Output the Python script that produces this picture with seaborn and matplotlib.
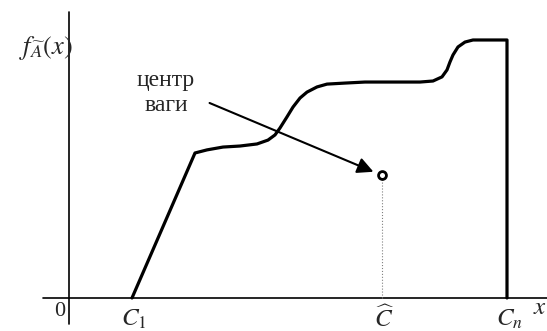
import pandas as pd
import matplotlib.pyplot as plt
import seaborn as sns

# funcion de pertenencia (x en unidades del dibujo, mu de 0 a 1)
x_vals = [132, 195, 207, 223, 240, 257, 268, 275, 280, 287, 293, 300, 307, 317, 327,
          345, 365, 393, 420, 433, 442, 447, 450, 453, 458, 465, 473, 487, 507, 507]
mu_vals = [0.0, 0.562, 0.574, 0.585, 0.589, 0.597, 0.612, 0.632, 0.659, 0.702, 0.740,
           0.775, 0.798, 0.818, 0.829, 0.833, 0.837, 0.837, 0.837, 0.841, 0.857, 0.884,
           0.915, 0.942, 0.973, 0.992, 1.0, 1.0, 1.0, 0.0]

# centro de gravedad
centro_x = [382]
centro_mu = [0.477]

# etiquetas del eje x
tick_pos = [132, 382, 507]
tick_labels = [r'$C_1$', r'$\widehat{C}$', r'$C_n$']

df = pd.DataFrame({"x": x_vals, "mu": mu_vals})

sns.set_style("white")
plt.rcParams['mathtext.fontset'] = 'stix'
plt.rcParams['font.family'] = ['Liberation Serif', 'DejaVu Serif']

fig = plt.figure(figsize=(5.47, 3.31), dpi=100)
ax = fig.add_axes([0, 0, 1, 1])
ax.set_xlim(0, 547)
ax.set_ylim(-0.128, 1.155)
ax.axis('off')

# ejes
ax.plot([43, 547], [0, 0], color='black', lw=1.2)
ax.plot([69, 69], [-0.101, 1.109], color='black', lw=1.2)

# curva
sns.lineplot(x="x", y="mu", data=df, sort=False, estimator=None, color='black',
             lw=2.3, ax=ax)

# linea punteada al centro
ax.plot([centro_x[0], centro_x[0]], [0, centro_mu[0]], color='gray', lw=0.8, ls=':')
sns.scatterplot(x=centro_x, y=centro_mu, s=32, facecolor='white', edgecolor='black',
                linewidth=2, zorder=5, ax=ax)

# flecha y texto
ax.annotate('', xy=(centro_x[0] - 6, centro_mu[0] + 0.008), xytext=(207, 0.760),
            arrowprops=dict(arrowstyle='-|>', color='black', lw=1.5, mutation_scale=24))
ax.text(166, 0.843, 'центр', fontsize=17, ha='center', va='center')
ax.text(166, 0.746, 'ваги', fontsize=17, ha='center', va='center')

# etiquetas
for p, t in zip(tick_pos, tick_labels):
    ax.text(p + 2, -0.082, t, fontsize=18, ha='center', va='center')
ax.text(60, -0.054, '0', fontsize=16, ha='center', va='center')
ax.text(540, -0.039, r'$x$', fontsize=18, ha='center', va='center')
ax.text(46, 0.969, r'$f_{\widetilde{A}}(x)$', fontsize=19, ha='center', va='center')

plt.savefig('out.png', dpi=100)
